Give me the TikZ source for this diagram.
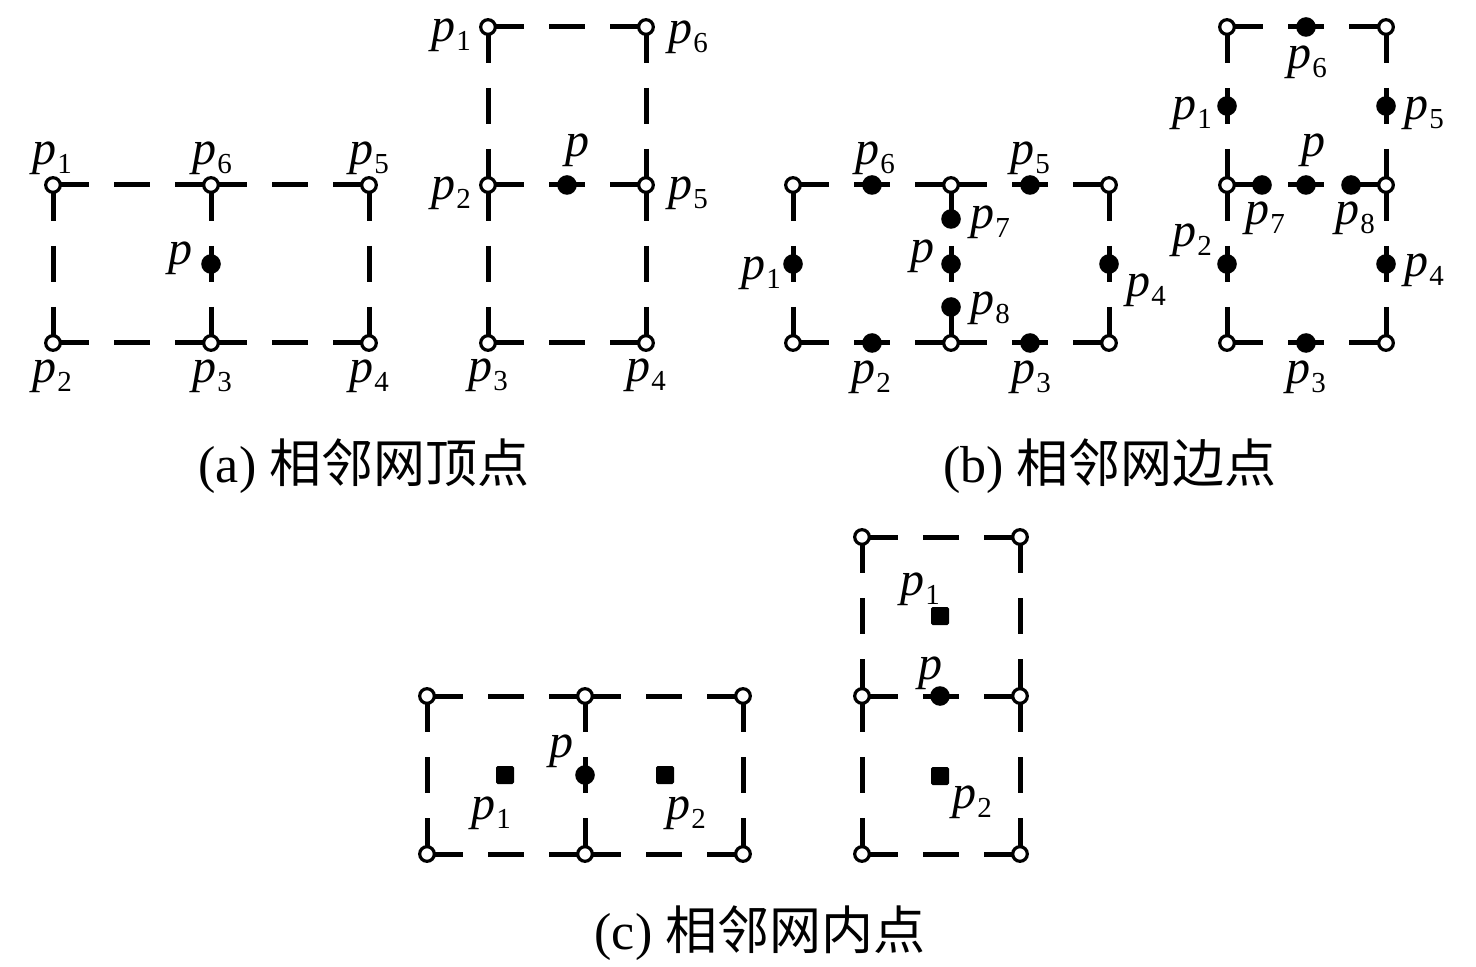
\documentclass[tikz,border=0pt]{standalone}
\usepackage{fontspec}
\setmainfont{Liberation Serif}
\newfontfamily\cjk{Noto Sans CJK SC}
\usetikzlibrary{backgrounds}

\newcommand{\plab}[1]{\textit{p}\kern0.5pt\raisebox{-4.5pt}{\fontsize{14.5}{14.5}\selectfont #1}}

\tikzset{every picture/.style={line width=0.75pt},
  netline/.style={line width=2.5pt, dash pattern=on 18pt off 12.5pt},
  vtx/.style={circle, draw, fill=white, line width=1.6pt, inner sep=0pt, minimum size=7.3pt},
  dot/.style={circle, fill, inner sep=0pt, minimum size=9.8pt},
  sqr/.style={rectangle, fill, rounded corners=0.8pt, inner sep=0pt, minimum size=9pt},
  lab/.style={inner sep=0pt, font=\fontsize{24}{24}\selectfont},
  captxt/.style={inner sep=0pt, font=\fontsize{26}{26}\selectfont}
}

\begin{document}
\begin{tikzpicture}[x=0.5pt,y=0.5pt,yscale=-1,xscale=1]
\useasboundingbox (0,0) rectangle (1476,967);

%%% (a) left: 2x1 cells
\node [vtx] (A1) at (53,185) {};
\node [vtx] (A6) at (211,185) {};
\node [vtx] (A5) at (369,185) {};
\node [vtx] (A2) at (53,343) {};
\node [vtx] (A3) at (211,343) {};
\node [vtx] (A4) at (369,343) {};
\node [dot] (Ap) at (211,264) {};
\begin{pgfonlayer}{background}
\draw [netline] (A1.center) -- (A6.center) ;
\draw [netline] (A6.center) -- (A5.center) ;
\draw [netline] (A2.center) -- (A3.center) ;
\draw [netline] (A3.center) -- (A4.center) ;
\draw [netline] (A1.center) -- (A2.center) ;
\draw [netline] (A6.center) -- (A3.center) ;
\draw [netline] (A5.center) -- (A4.center) ;
\end{pgfonlayer}
% Text Node
\node [lab] (lA1) at (52,158) {\plab{1}};
\node [lab] (lA6) at (212,158) {\plab{6}};
\node [lab] (lA5) at (369,158) {\plab{5}};
\node [lab] (lA2) at (52,376) {\plab{2}};
\node [lab] (lA3) at (212,376) {\plab{3}};
\node [lab] (lA4) at (369,376) {\plab{4}};
\node [lab] (lAp) at (180,258) {\textit{p}};

%%% (a) right: 1x2 cells
\node [vtx] (B1) at (488,27) {};
\node [vtx] (B6) at (646,27) {};
\node [vtx] (B2) at (488,185) {};
\node [vtx] (B5) at (646,185) {};
\node [vtx] (B3) at (488,343) {};
\node [vtx] (B4) at (646,343) {};
\node [dot] (Bp) at (567,185) {};
\begin{pgfonlayer}{background}
\draw [netline] (B1.center) -- (B6.center) ;
\draw [netline] (B2.center) -- (B5.center) ;
\draw [netline] (B3.center) -- (B4.center) ;
\draw [netline] (B1.center) -- (B2.center) ;
\draw [netline] (B2.center) -- (B3.center) ;
\draw [netline] (B6.center) -- (B5.center) ;
\draw [netline] (B5.center) -- (B4.center) ;
\end{pgfonlayer}
% Text Node
\node [lab] (lB1) at (451,35) {\plab{1}};
\node [lab] (lB6) at (688,37) {\plab{6}};
\node [lab] (lB2) at (451,193) {\plab{2}};
\node [lab] (lB5) at (688,193) {\plab{5}};
\node [lab] (lB3) at (488,375) {\plab{3}};
\node [lab] (lB4) at (646,375) {\plab{4}};
\node [lab] (lBp) at (577,150) {\textit{p}};

%%% (b) left: 2x1 cells
\node [vtx] (Cv1) at (793,185) {};
\node [vtx] (Cv2) at (951,185) {};
\node [vtx] (Cv3) at (1109,185) {};
\node [vtx] (Cv4) at (793,343) {};
\node [vtx] (Cv5) at (951,343) {};
\node [vtx] (Cv6) at (1109,343) {};
\begin{pgfonlayer}{background}
\draw [netline] (Cv1.center) -- (Cv2.center) ;
\draw [netline] (Cv2.center) -- (Cv3.center) ;
\draw [netline] (Cv4.center) -- (Cv5.center) ;
\draw [netline] (Cv5.center) -- (Cv6.center) ;
\draw [netline] (Cv1.center) -- (Cv4.center) ;
\draw [netline] (Cv2.center) -- (Cv5.center) ;
\draw [netline] (Cv3.center) -- (Cv6.center) ;
\end{pgfonlayer}
\node [dot] (C1) at (793,264) {};
\node [dot] (C2) at (872,343) {};
\node [dot] (C3) at (1030,343) {};
\node [dot] (C4) at (1109,264) {};
\node [dot] (C5) at (1030,185) {};
\node [dot] (C6) at (872,185) {};
\node [dot] (C7) at (951,219) {};
\node [dot] (C8) at (951,307) {};
\node [dot] (Cp) at (951,264) {};
% Text Node
\node [lab] (lC1) at (761,273) {\plab{1}};
\node [lab] (lC2) at (871,377) {\plab{2}};
\node [lab] (lC3) at (1031,377) {\plab{3}};
\node [lab] (lC4) at (1146,290) {\plab{4}};
\node [lab] (lC5) at (1030,158) {\plab{5}};
\node [lab] (lC6) at (875,158) {\plab{6}};
\node [lab] (lC7) at (990,222) {\plab{7}};
\node [lab] (lC8) at (990,308) {\plab{8}};
\node [lab] (lCp) at (922,256) {\textit{p}};

%%% (b) right: 1x2 cells
\node [vtx] (Dv1) at (1227,27) {};
\node [vtx] (Dv2) at (1386,27) {};
\node [vtx] (Dv3) at (1227,185) {};
\node [vtx] (Dv4) at (1386,185) {};
\node [vtx] (Dv5) at (1227,343) {};
\node [vtx] (Dv6) at (1386,343) {};
\begin{pgfonlayer}{background}
\draw [netline] (Dv1.center) -- (Dv2.center) ;
\draw [netline] (Dv3.center) -- (Dv4.center) ;
\draw [netline] (Dv5.center) -- (Dv6.center) ;
\draw [netline] (Dv1.center) -- (Dv3.center) ;
\draw [netline] (Dv3.center) -- (Dv5.center) ;
\draw [netline] (Dv2.center) -- (Dv4.center) ;
\draw [netline] (Dv4.center) -- (Dv6.center) ;
\end{pgfonlayer}
\node [dot] (D1) at (1227,106) {};
\node [dot] (D2) at (1227,264) {};
\node [dot] (D3) at (1306,343) {};
\node [dot] (D4) at (1386,264) {};
\node [dot] (D5) at (1386,106) {};
\node [dot] (D6) at (1306,27) {};
\node [dot] (D7) at (1262,185) {};
\node [dot] (D8) at (1351,185) {};
\node [dot] (Dp) at (1306,185) {};
% Text Node
\node [lab] (lD1) at (1192,113) {\plab{1}};
\node [lab] (lD2) at (1192,240) {\plab{2}};
\node [lab] (lD3) at (1306,377) {\plab{3}};
\node [lab] (lD4) at (1424,270) {\plab{4}};
\node [lab] (lD5) at (1424,113) {\plab{5}};
\node [lab] (lD6) at (1307,62) {\plab{6}};
\node [lab] (lD7) at (1265,218) {\plab{7}};
\node [lab] (lD8) at (1355,218) {\plab{8}};
\node [lab] (lDp) at (1313,150) {\textit{p}};

%%% (c) left: 2x1 cells
\node [vtx] (Ev1) at (427,696) {};
\node [vtx] (Ev2) at (585,696) {};
\node [vtx] (Ev3) at (743,696) {};
\node [vtx] (Ev4) at (427,854) {};
\node [vtx] (Ev5) at (585,854) {};
\node [vtx] (Ev6) at (743,854) {};
\node [dot] (Ep) at (585,775) {};
\node [sqr] (E1) at (505,775) {};
\node [sqr] (E2) at (665,775) {};
\begin{pgfonlayer}{background}
\draw [netline] (Ev1.center) -- (Ev2.center) ;
\draw [netline] (Ev2.center) -- (Ev3.center) ;
\draw [netline] (Ev4.center) -- (Ev5.center) ;
\draw [netline] (Ev5.center) -- (Ev6.center) ;
\draw [netline] (Ev1.center) -- (Ev4.center) ;
\draw [netline] (Ev2.center) -- (Ev5.center) ;
\draw [netline] (Ev3.center) -- (Ev6.center) ;
\end{pgfonlayer}
% Text Node
\node [lab] (lE1) at (491,813) {\plab{1}};
\node [lab] (lE2) at (686,813) {\plab{2}};
\node [lab] (lEp) at (561,751) {\textit{p}};

%%% (c) right: 1x2 cells
\node [vtx] (Fv1) at (862,537) {};
\node [vtx] (Fv2) at (1020,537) {};
\node [vtx] (Fv3) at (862,696) {};
\node [vtx] (Fv4) at (1020,696) {};
\node [vtx] (Fv5) at (862,854) {};
\node [vtx] (Fv6) at (1020,854) {};
\node [dot] (Fp) at (940,696) {};
\node [sqr] (F1) at (940,616) {};
\node [sqr] (F2) at (940,776) {};
\begin{pgfonlayer}{background}
\draw [netline] (Fv1.center) -- (Fv2.center) ;
\draw [netline] (Fv3.center) -- (Fv4.center) ;
\draw [netline] (Fv5.center) -- (Fv6.center) ;
\draw [netline] (Fv1.center) -- (Fv3.center) ;
\draw [netline] (Fv3.center) -- (Fv5.center) ;
\draw [netline] (Fv2.center) -- (Fv4.center) ;
\draw [netline] (Fv4.center) -- (Fv6.center) ;
\end{pgfonlayer}
% Text Node
\node [lab] (lF1) at (920,589) {\plab{1}};
\node [lab] (lF2) at (972,802) {\plab{2}};
\node [lab] (lFp) at (930,673) {\textit{p}};

%%% captions
\node [captxt] (capa) at (364,466) {(a) {\cjk 相邻网顶点}};
\node [captxt] (capb) at (1110,466) {(b) {\cjk 相邻网边点}};
\node [captxt] (capc) at (760,933) {(c) {\cjk 相邻网内点}};

\end{tikzpicture}
\end{document}
